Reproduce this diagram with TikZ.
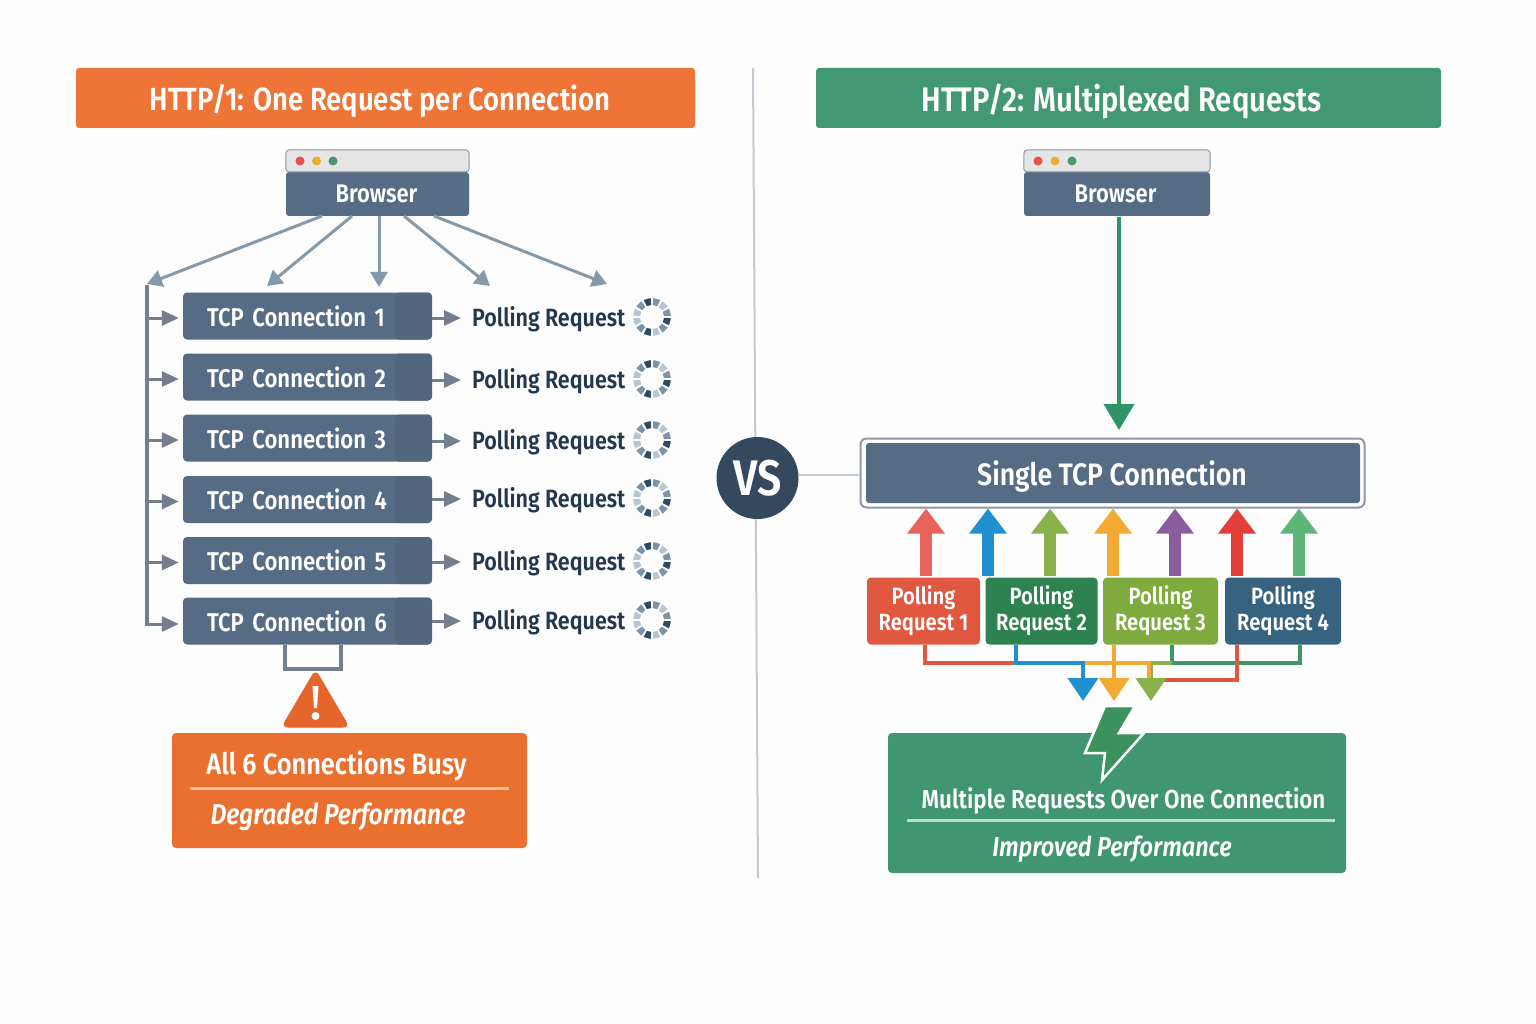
\documentclass[tikz,border=0pt]{standalone}
\usepackage{fontspec}
\usepackage{xcolor}
\setmainfont{Fira Sans}[FakeStretch=0.86, BoldFont={Fira Sans SemiBold}, BoldItalicFont={Fira Sans SemiBold Italic}]
\usetikzlibrary{positioning,shapes,arrows.meta}

\definecolor{pagefill}{HTML}{FDFDFD}
\definecolor{orangehead}{HTML}{EE7537}
\definecolor{orangebox}{HTML}{EA7030}
\definecolor{orangeline}{HTML}{F4BC9E}
\definecolor{warnfill}{HTML}{E5662C}
\definecolor{greenhead}{HTML}{429873}
\definecolor{greenbox}{HTML}{3F9670}
\definecolor{greenline}{HTML}{BFDCCE}
\definecolor{greenarrow}{HTML}{2F9468}
\definecolor{slatebox}{HTML}{566C84}
\definecolor{slatedark}{HTML}{52677E}
\definecolor{barfill}{HTML}{E4E5E4}
\definecolor{busline}{HTML}{737F8E}
\definecolor{fanline}{HTML}{8499AA}
\definecolor{inktext}{HTML}{22384F}
\definecolor{vsfill}{HTML}{34495E}
\definecolor{divider}{HTML}{C3CAD1}
\definecolor{spindark}{HTML}{2F4A63}
\definecolor{spinmid}{HTML}{7F93A6}
\definecolor{spinlight}{HTML}{B9C6D1}
\definecolor{upred}{HTML}{E8635C}
\definecolor{upblue}{HTML}{2090D0}
\definecolor{uplime}{HTML}{8AB14A}
\definecolor{uporange}{HTML}{F2AA33}
\definecolor{uppurple}{HTML}{8A5E9E}
\definecolor{upcrimson}{HTML}{E33E3A}
\definecolor{upgreen}{HTML}{5DB677}
\definecolor{boxred}{HTML}{E0583F}
\definecolor{boxgreen}{HTML}{2E8250}
\definecolor{boxlime}{HTML}{7FAA3E}
\definecolor{boxblue}{HTML}{376280}
\definecolor{linkgreen}{HTML}{3F9669}

\tikzset{
    spinner/.pic={
        \foreach \a/\c in {105/spindark,75/spinmid,45/spinlight,15/spinmid,-15/spindark,-45/spinmid,
                           -75/spinlight,-105/spindark,-135/spinmid,-165/spinlight,165/spinlight,135/spinmid}
            \fill[\c] (\a-11:12pt) -- (\a-11:19pt) -- (\a+11:19pt) -- (\a+11:12pt) -- cycle;
    }
}

\begin{document}
\begin{tikzpicture}[
            x=1pt, y=-1pt,
            headnode/.style={rectangle, rounded corners=3pt, minimum height=60pt},
            browsernode/.style={rectangle, rounded corners=3pt, fill=slatebox, text=white, font=\fontsize{25.5}{30}\selectfont\bfseries, minimum height=44pt},
            tcpnode/.style={rectangle, rounded corners=4pt, fill=slatebox, text=white, font=\fontsize{25.7}{30}\selectfont\bfseries, minimum width=249pt, minimum height=47pt, text width=201pt, align=left,
                path picture={\fill[slatedark] ([xshift=-37pt]path picture bounding box.north east) rectangle (path picture bounding box.south east);}},
            pollnode/.style={anchor=west, inner sep=0pt, text=inktext, font=\fontsize{25}{30}\selectfont\bfseries},
            reqnode/.style={rectangle, rounded corners=4pt, text=white, align=center, font=\fontsize{23.5}{26}\selectfont\bfseries, minimum height=67pt},
            fan/.style={draw=fanline, line width=3pt, -{Triangle[width=17pt,length=15pt]}},
            bus/.style={draw=busline, line width=3.5pt},
            branch/.style={draw=busline, line width=3pt, -{Triangle[width=15pt,length=17pt]}},
            uparrow/.style={line width=12pt, -{Triangle[width=36pt,length=25pt]}},
            link/.style={line width=4pt},
            downhead/.style={line width=4pt, -{Triangle[width=30pt,length=23pt]}}
        ]
            \fill[pagefill] (0,0) rectangle (1536,1024);
            \useasboundingbox (0,0) rectangle (1536,1024);

            % Divider
            \coordinate (dtop) at (753,68);
            \coordinate (dbottom) at (758,878);
            \draw[divider, line width=2pt] (dtop) -- (dbottom);

            % Headers
            \node[headnode, fill=orangehead, minimum width=619pt] (headl) at (385.5,98) {};
            \node[text=white, font=\fontsize{32}{38}\selectfont\bfseries] (headlt) at (380,101) {HTTP/1: One Request per Connection};
            \node[headnode, fill=greenhead, minimum width=625pt] (headr) at (1128.5,98) {};
            \node[text=white, font=\fontsize{34}{38}\selectfont\bfseries] (headrt) at (1121.5,101) {HTTP/2: Multiplexed Requests};

            % Browser left
            \node[browsernode, minimum width=183pt] (brl) at (377.5,194) {\hspace*{-2pt}Browser};
            \filldraw[fill=barfill, draw=slatebox!70, line width=1pt, rounded corners=3pt] (brl.north west) -- (286,150) -- (469,150) -- (brl.north east) -- cycle;
            \fill[upcrimson!90] (300,161) circle (4.5pt);
            \fill[uporange] (316.5,161) circle (4.5pt);
            \fill[boxgreen!85!white] (333,161) circle (4.5pt);

            % TCP connections
            \node[tcpnode] (tcp1) at (307.5,316) {TCP Connection 1};
            \node[tcpnode] (tcp2) at (307.5,377) {TCP Connection 2};
            \node[tcpnode] (tcp3) at (307.5,438) {TCP Connection 3};
            \node[tcpnode] (tcp4) at (307.5,499.5) {TCP Connection 4};
            \node[tcpnode] (tcp5) at (307.5,560.5) {TCP Connection 5};
            \node[tcpnode] (tcp6) at (307.5,621) {TCP Connection 6};

            % Polling requests
            \node[pollnode] (poll1) at (472,319) {Polling Request};
            \node[pollnode] (poll2) at (472,381) {Polling Request};
            \node[pollnode] (poll3) at (472,442) {Polling Request};
            \node[pollnode] (poll4) at (472,500) {Polling Request};
            \node[pollnode] (poll5) at (472,563) {Polling Request};
            \node[pollnode] (poll6) at (472,622) {Polling Request};
            \pic at (652,317) {spinner};
            \pic at (652,379) {spinner};
            \pic at (652,440) {spinner};
            \pic at (652,498) {spinner};
            \pic at (652,561) {spinner};
            \pic at (652,620) {spinner};

            % Fan out of browser
            \coordinate (fan1) at (147,284);
            \coordinate (fan2) at (267,286);
            \coordinate (fan3) at (379,287);
            \coordinate (fan4) at (490,286);
            \coordinate (fan5) at (607,284);
            \draw[fan] (322,216) -- (fan1);
            \draw[fan] (352,216) -- (fan2);
            \draw[fan] (379,216) -- (fan3);
            \draw[fan] (404,216) -- (fan4);
            \draw[fan] (434,216) -- (fan5);

            % Bus to connections
            \coordinate (bustop) at (147,285);
            \draw[bus] (bustop) -- ([yshift=-3pt]bustop |- tcp6.west);
            \draw[branch] ([yshift=-2pt]bustop |- tcp1.west) -- ([xshift=-4pt,yshift=-2pt]tcp1.west);
            \draw[branch] ([yshift=-2pt]bustop |- tcp2.west) -- ([xshift=-4pt,yshift=-2pt]tcp2.west);
            \draw[branch] ([yshift=-2pt]bustop |- tcp3.west) -- ([xshift=-4pt,yshift=-2pt]tcp3.west);
            \draw[branch] ([yshift=-2pt]bustop |- tcp4.west) -- ([xshift=-4pt,yshift=-2pt]tcp4.west);
            \draw[branch] ([yshift=-2pt]bustop |- tcp5.west) -- ([xshift=-4pt,yshift=-2pt]tcp5.west);
            \draw[branch] ([xshift=-1.75pt,yshift=-3pt]bustop |- tcp6.west) -- ([xshift=-4pt,yshift=-3pt]tcp6.west);

            % Connection to polling
            \draw[branch] ([yshift=1pt]tcp1.east |- poll1.west) -- ([xshift=-11pt,yshift=1pt]poll1.west);
            \draw[branch] ([yshift=1pt]tcp2.east |- poll2.west) -- ([xshift=-11pt,yshift=1pt]poll2.west);
            \draw[branch] ([yshift=1pt]tcp3.east |- poll3.west) -- ([xshift=-11pt,yshift=1pt]poll3.west);
            \draw[branch] ([yshift=1pt]tcp4.east |- poll4.west) -- ([xshift=-11pt,yshift=1pt]poll4.west);
            \draw[branch] ([yshift=1pt]tcp5.east |- poll5.west) -- ([xshift=-11pt,yshift=1pt]poll5.west);
            \draw[branch] ([yshift=1pt]tcp6.east |- poll6.west) -- ([xshift=-11pt,yshift=1pt]poll6.west);

            % Warning
            \coordinate (brka) at (285,645);
            \coordinate (brkb) at (341,645);
            \draw[busline, line width=4pt] (brka) -- (285,669) -- (341,669) -- (brkb);
            \filldraw[warnfill, draw=warnfill, line width=1pt, rounded corners=6pt] (315.5,670) -- (349,727) -- (282,727) -- cycle;
            \fill[white] (312.5,686) -- (318.5,686) -- (317,708) -- (314,708) -- cycle;
            \fill[white] (315.5,716) circle (4pt);

            % Busy box
            \node[rectangle, rounded corners=4pt, fill=orangebox, minimum width=355pt, minimum height=115pt] (busy) at (349.5,790.5) {};
            \node[text=white, font=\fontsize{29.5}{34}\selectfont\bfseries] (busyt) at (336.5,766) {All 6 Connections Busy};
            \node[text=white, font=\fontsize{28.7}{34}\selectfont\bfseries\itshape] (busyd) at (338,817) {Degraded Performance};
            \coordinate (busya) at (190,788);
            \coordinate (busyb) at (509,788);
            \draw[orangeline, line width=3pt] (busya) -- (busyb);

            % VS
            \node[circle, fill=vsfill, text=white, inner sep=0pt, minimum size=82pt, font=\fontsize{50}{54}\selectfont\bfseries] (vs) at (757.5,478) {VS};

            % Browser right
            \node[browsernode, minimum width=186pt] (brr) at (1117,194) {\hspace*{-3pt}Browser};
            \filldraw[fill=barfill, draw=slatebox!70, line width=1pt, rounded corners=3pt] (brr.north west) -- (1024,150) -- (1210,150) -- (brr.north east) -- cycle;
            \fill[upcrimson!90] (1038,161) circle (4.5pt);
            \fill[uporange] (1055,161) circle (4.5pt);
            \fill[boxgreen!85!white] (1072,161) circle (4.5pt);

            % Single connection
            \node[rectangle, rounded corners=6pt, fill=white, draw=busline!80, line width=2pt, minimum width=504pt, minimum height=69pt] (singleo) at (1112.5,473) {};
            \node[rectangle, rounded corners=3pt, fill=slatebox, minimum width=494pt, minimum height=60pt] (single) at (1113,473) {};
            \node[text=white, font=\fontsize{31}{36}\selectfont\bfseries] (singlet) at (1112,476.5) {Single TCP Connection};
            \coordinate (sing) at (1119,217);
            \draw[greenarrow, line width=4pt, -{Triangle[width=30pt,length=26pt]}] (sing) -- (1119,430);
            \draw[divider, line width=2pt] ([xshift=0pt,yshift=3pt]vs.east) -- ([yshift=3pt]vs.east -| singleo.west);

            % Request boxes
            \node[reqnode, fill=boxred, minimum width=113pt] (req1) at (923.5,611) {Polling\\Request 1};
            \node[reqnode, fill=boxgreen, minimum width=112pt] (req2) at (1041.5,611) {Polling\\Request 2};
            \node[reqnode, fill=boxlime, minimum width=115pt] (req3) at (1160.5,611) {Polling\\Request 3};
            \node[reqnode, fill=boxblue, minimum width=116pt] (req4) at (1283,611) {Polling\\Request 4};

            % Up arrows
            \coordinate (up1) at (926,576);
            \coordinate (up2) at (988,576);
            \coordinate (up3) at (1050,576);
            \coordinate (up4) at (1113,576);
            \coordinate (up5) at (1175,576);
            \coordinate (up6) at (1237,576);
            \coordinate (up7) at (1299,576);
            \draw[uparrow, upred] (up1) -- (up1 |- singleo.south);
            \draw[uparrow, upblue] (up2) -- (up2 |- singleo.south);
            \draw[uparrow, uplime] (up3) -- (up3 |- singleo.south);
            \draw[uparrow, uporange] (up4) -- (up4 |- singleo.south);
            \draw[uparrow, uppurple] (up5) -- (up5 |- singleo.south);
            \draw[uparrow, upcrimson] (up6) -- (up6 |- singleo.south);
            \draw[uparrow, upgreen] (up7) -- (up7 |- singleo.south);

            % Merging links
            \coordinate (dn1) at (1083,701);
            \coordinate (dn2) at (1114,701);
            \coordinate (dn3) at (1151,701);
            \coordinate (lk1) at (925,645);
            \coordinate (lk2) at (1016,645);
            \coordinate (lk3) at (1114,645);
            \coordinate (lk4) at (1172,645);
            \coordinate (lk5) at (1237,645);
            \coordinate (lk6) at (1300,645);
            \draw[link, boxred] (lk1) -- (925,663) -- (1016,663);
            \draw[link, linkgreen] (lk4) -- (1172,663) -- (1300,663) -- (lk6);
            \draw[link, boxred] (lk5) -- (1237,680) -- (1160,680);
            \draw[downhead, uplime] (1172,663) -- (1151,663) -- (dn3);
            \draw[link, uporange] (1085,663) -- (1149,663) -- (1149,678);
            \draw[downhead, upblue] (lk2) -- (1016,663) -- (1083,663) -- (dn1);
            \draw[downhead, uporange] (lk3) -- (dn2);

            % Result box
            \node[rectangle, rounded corners=4pt, fill=greenbox, minimum width=458pt, minimum height=140pt] (result) at (1117,803) {};
            \filldraw[draw=white, line width=2.5pt, fill=boxgreen!70!upgreen] (1105,706) -- (1135,706) -- (1119,733) -- (1144,733) -- (1102,780) -- (1105,753) -- (1085,753) -- cycle;
            \node[text=white, font=\fontsize{26}{30}\selectfont\bfseries] (resultt) at (1123.5,801) {Multiple Requests Over One Connection};
            \node[text=white, font=\fontsize{27.3}{32}\selectfont\bfseries\itshape] (resultd) at (1112,849) {Improved Performance};
            \coordinate (resa) at (907,820);
            \coordinate (resb) at (1335,820);
            \draw[greenline, line width=3pt] (resa) -- (resb);
        \end{tikzpicture}
\end{document}
